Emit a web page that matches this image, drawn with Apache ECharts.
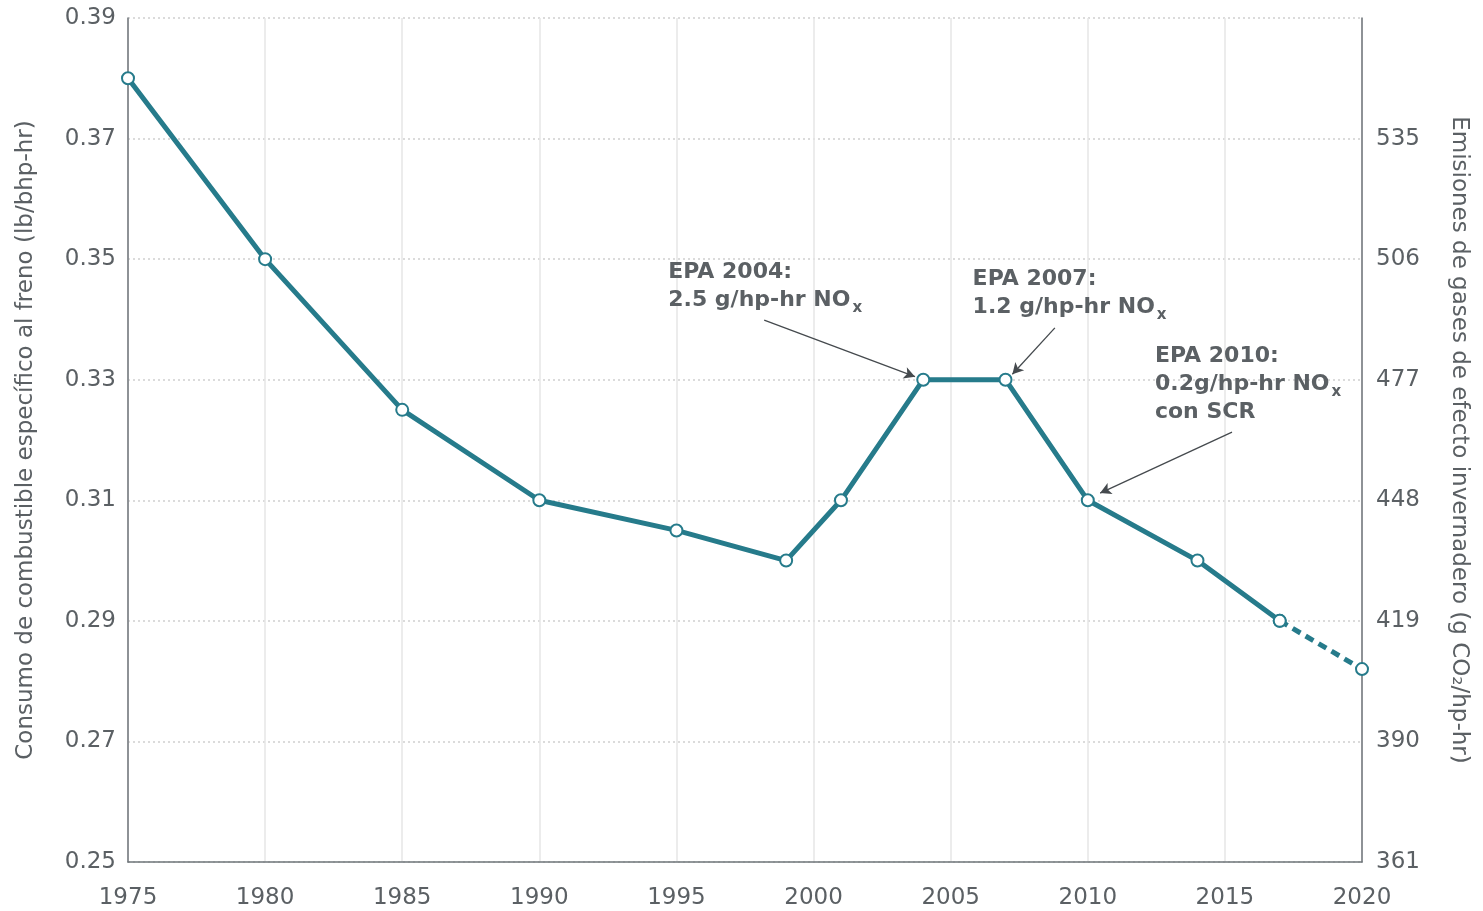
<!DOCTYPE html>
<html>
<head>
<meta charset="utf-8">
<script src="https://cdn.jsdelivr.net/npm/echarts@6/dist/echarts.min.js"></script>
<style>
  html, body { margin: 0; padding: 0; background: #fff; }
  #chart { width: 1483px; height: 911px; }
</style>
</head>
<body>
<div id="chart"></div>
<script>
// data
const years = [1975, 1980, 1985, 1990, 1995, 1999, 2001, 2004, 2007, 2010, 2014, 2017];
const consumo = [0.38, 0.35, 0.325, 0.31, 0.305, 0.30, 0.31, 0.33, 0.33, 0.31, 0.30, 0.29];
const projYears = [2017, 2020];
const projValues = [0.29, 0.282];
const rightTickLabels = ['361', '390', '419', '448', '477', '506', '535', ''];

// notes: text lines, label anchor, arrow start, arrow end (data coords)
const notes = [
  { lines: ['EPA 2004:', '2.5 g/hp-hr NO'], sub: 'x', at: [1994.7, 0.3502], from: [1998.2, 0.3399], to: [2003.7, 0.3305] },
  { lines: ['EPA 2007:', '1.2 g/hp-hr NO'], sub: 'x', at: [2005.8, 0.3490], from: [2008.8, 0.3386], to: [2007.25, 0.3309] },
  { lines: ['EPA 2010:', '0.2g/hp-hr NO', 'con SCR'], sub: 'x', at: [2012.45, 0.3362], from: [2015.26, 0.3213], to: [2010.45, 0.3112] }
];

const teal = '#267b8b';
const textGray = '#5b6064';
const axisGray = '#6f757a';
const font = 'DejaVu Sans';

const chart = echarts.init(document.getElementById('chart'));

const option = {
  animation: false,
  textStyle: { fontFamily: font },
  grid: { left: 128, right: 121, top: 18, bottom: 49 },
  xAxis: {
    type: 'value',
    min: 1975,
    max: 2020,
    interval: 5,
    axisLine: { show: true, lineStyle: { color: axisGray, width: 1.5 } },
    axisTick: { show: false },
    axisLabel: { color: textGray, fontSize: 23, margin: 25, formatter: v => String(v) },
    splitLine: { show: true, lineStyle: { color: '#e6e6e6', width: 1.5 } }
  },
  yAxis: [
    {
      type: 'value',
      min: 0.25,
      max: 0.39,
      interval: 0.02,
      position: 'left',
      name: 'Consumo de combustible específico al freno (lb/bhp-hr)',
      nameLocation: 'middle',
      nameRotate: 90,
      nameGap: 90,
      nameTextStyle: { color: textGray, fontSize: 23 },
      axisLine: { show: true, lineStyle: { color: axisGray, width: 1.5 } },
      axisTick: { show: false },
      axisLabel: { color: textGray, fontSize: 23, margin: 12, formatter: v => v.toFixed(2) },
      splitLine: { show: true, lineStyle: { color: '#cfcfcf', width: 1.5, type: [2, 3] } }
    },
    {
      type: 'value',
      min: 0.25,
      max: 0.39,
      interval: 0.02,
      position: 'right',
      name: 'Emisiones de gases de efecto invernadero (g CO₂/hp-hr)',
      nameLocation: 'middle',
      nameRotate: -90,
      nameGap: 85,
      nameTextStyle: { color: textGray, fontSize: 23 },
      axisLine: { show: true, lineStyle: { color: axisGray, width: 1.5 } },
      axisTick: { show: false },
      axisLabel: {
        color: textGray, fontSize: 23, margin: 14,
        formatter: (v) => rightTickLabels[Math.round((v - 0.25) / 0.02)] || ''
      },
      splitLine: { show: false }
    }
  ],
  series: [
    {
      type: 'line',
      z: 3,
      data: projYears.map((y, i) => [y, projValues[i]]),
      symbol: 'emptyCircle',
      symbolSize: 12,
      lineStyle: { color: teal, width: 5, type: [9, 6] },
      itemStyle: { color: teal, borderWidth: 2.5 }
    },
    {
      type: 'line',
      z: 4,
      data: years.map((y, i) => [y, consumo[i]]),
      symbol: 'emptyCircle',
      symbolSize: 12,
      lineStyle: { color: teal, width: 5 },
      itemStyle: { color: teal, borderWidth: 2.5 },
      markLine: {
        silent: true,
        symbol: ['none', 'arrow'],
        symbolSize: [9, 11],
        label: { show: false },
        lineStyle: { color: '#454a4e', width: 1.3, type: 'solid' },
        data: notes.map(n => [{ coord: n.from }, { coord: n.to }])
      }
    }
  ]
};

chart.setOption(option);

// annotation texts anchored at data coordinates
const graphics = notes.map(n => {
  const p = chart.convertToPixel({ gridIndex: 0 }, n.at);
  const rows = n.lines.map((l, i) => (i === 1 ? '{a|' + l + '}{s|' + n.sub + '}' : '{a|' + l + '}'));
  return {
    type: 'text',
    x: p[0],
    y: p[1],
    z: 10,
    style: {
      text: rows.join('\n'),
      fill: textGray,
      fontFamily: font,
      rich: {
        a: { fontSize: 22, fontWeight: 'bold', fill: textGray, lineHeight: 28, fontFamily: font },
        s: { fontSize: 15, fontWeight: 'bold', fill: textGray, lineHeight: 28, padding: [16, 0, 0, 2], fontFamily: font }
      }
    }
  };
});
chart.setOption({ graphic: graphics });
</script>
</body>
</html>
